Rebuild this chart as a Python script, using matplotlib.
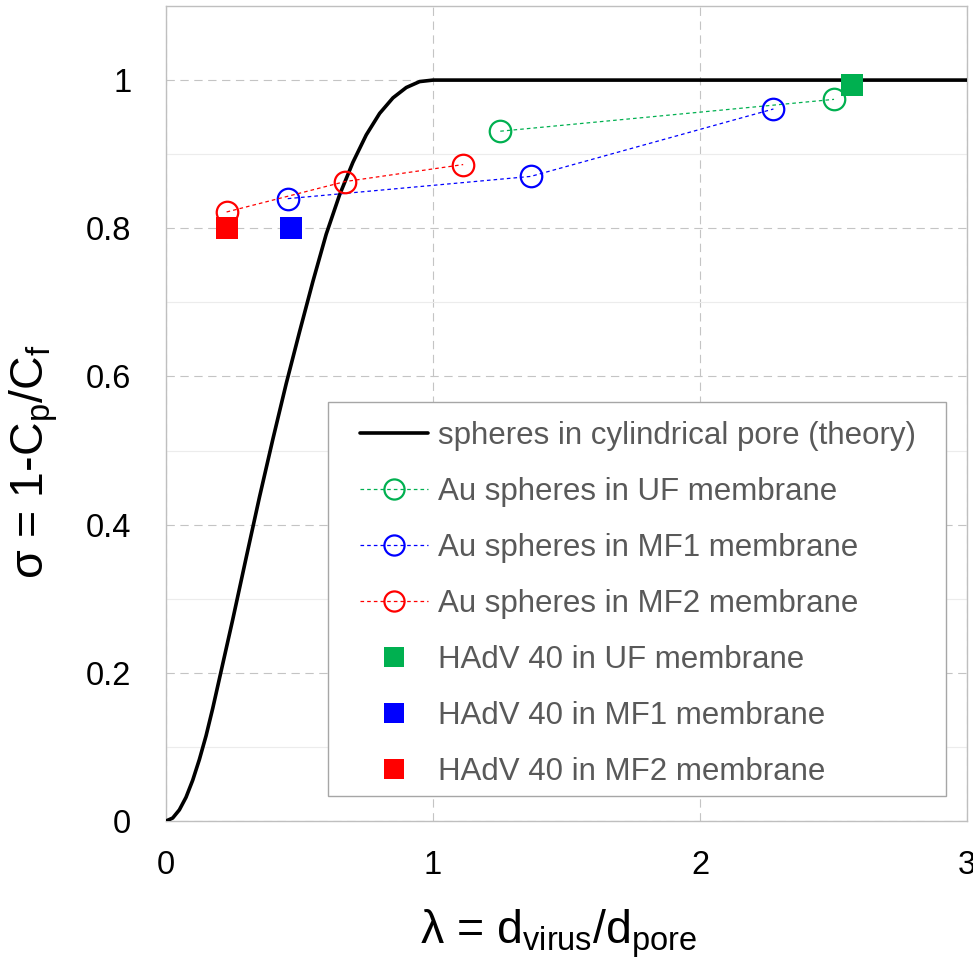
import matplotlib
matplotlib.use("Agg")
import matplotlib.pyplot as plt
from matplotlib.patches import Rectangle
from matplotlib.ticker import FixedLocator, FuncFormatter

plt.rcParams['font.family'] = ['Liberation Sans', 'DejaVu Sans']
plt.rcParams['mathtext.fontset'] = 'custom'
plt.rcParams['mathtext.rm'] = 'Liberation Sans'
plt.rcParams['mathtext.it'] = 'Liberation Sans'
plt.rcParams['mathtext.default'] = 'regular'
plt.rcParams['lines.scale_dashes'] = False

# Theoretical rejection of spheres in a cylindrical pore
theory_lambda = [0.0, 0.025, 0.05, 0.075, 0.10, 0.125, 0.15, 0.175, 0.20, 0.25,
                 0.30, 0.35, 0.40, 0.45, 0.50, 0.55, 0.60, 0.65, 0.70, 0.75,
                 0.80, 0.85, 0.90, 0.95, 1.0, 3.0]
theory_sigma = [0.0, 0.004, 0.015, 0.032, 0.055, 0.083, 0.115, 0.152, 0.192, 0.272,
                0.355, 0.437, 0.515, 0.590, 0.660, 0.728, 0.792, 0.845, 0.889, 0.926,
                0.955, 0.976, 0.990, 0.998, 1.0, 1.0]

# Au spheres
uf_lambda = [1.252, 2.502]
uf_sigma = [0.931, 0.974]
mf1_lambda = [0.456, 1.366, 2.275]
mf1_sigma = [0.840, 0.870, 0.961]
mf2_lambda = [0.227, 0.670, 1.113]
mf2_sigma = [0.822, 0.863, 0.886]

# HAdV 40
hadv_uf = (2.568, 0.993)
hadv_mf1 = (0.469, 0.800)
hadv_mf2 = (0.228, 0.800)

green = '#00B050'
blue = '#0000FF'
red = '#FF0000'

W, H = 973, 965
fig = plt.figure(figsize=(W / 100, H / 100), dpi=100)
L, R, B, T = 166, 967, 821, 6
ax = fig.add_axes([L / W, 1 - B / H, (R - L) / W, (B - T) / H])

ax.set_xlim(0, 3)
ax.set_ylim(0, 1.1)

# grid
ax.xaxis.set_major_locator(FixedLocator([0, 1, 2, 3]))
ax.yaxis.set_major_locator(FixedLocator([0, 0.2, 0.4, 0.6, 0.8, 1.0]))
ax.yaxis.set_minor_locator(FixedLocator([0.1, 0.3, 0.5, 0.7, 0.9]))
ax.grid(True, which='major', axis='both', color='#c4c4c4', lw=0.8,
        linestyle=(0, (6, 4)))
ax.grid(True, which='minor', axis='y', color='#ececec', lw=0.8, linestyle='-')
ax.set_axisbelow(True)


def fmt(v, _):
    s = f"{v:.1f}"
    return s[:-2] if s.endswith('.0') else s


ax.yaxis.set_major_formatter(FuncFormatter(fmt))
ax.xaxis.set_major_formatter(FuncFormatter(fmt))
ax.tick_params(which='both', length=0)
ax.tick_params(axis='y', labelsize=23.5, pad=25)
ax.tick_params(axis='x', labelsize=23.5, pad=21)
for s in ax.spines.values():
    s.set_color('#bfbfbf')
    s.set_linewidth(1.0)

h_theory, = ax.plot(theory_lambda, theory_sigma, color='black', lw=2.6,
                    solid_capstyle='round', solid_joinstyle='round', zorder=3,
                    label='spheres in cylindrical pore (theory)')

dash = (0, (2.6, 2.2))
circ = dict(marker='o', markersize=15.5, markerfacecolor='none', mew=1.6,
            lw=0.9, linestyle=dash, zorder=4)
h_uf, = ax.plot(uf_lambda, uf_sigma, color=green, label='Au spheres in UF membrane', **circ)
h_mf1, = ax.plot(mf1_lambda, mf1_sigma, color=blue, label='Au spheres in MF1 membrane', **circ)
h_mf2, = ax.plot(mf2_lambda, mf2_sigma, color=red, label='Au spheres in MF2 membrane', **circ)
for h in (h_uf, h_mf1, h_mf2):
    h.set_markeredgecolor(h.get_color())

sq = dict(marker='s', markersize=16, linestyle='none', mew=0, zorder=5)
h_s1, = ax.plot([hadv_uf[0]], [hadv_uf[1]], color=green, label='HAdV 40 in UF membrane', **sq)
h_s2, = ax.plot([hadv_mf1[0]], [hadv_mf1[1]], color=blue, label='HAdV 40 in MF1 membrane', **sq)
h_s3, = ax.plot([hadv_mf2[0]], [hadv_mf2[1]], color=red, label='HAdV 40 in MF2 membrane', **sq)


def to_axes(px, py):
    return (px - L) / (R - L), (B - py) / (B - T)


# legend frame
x0, y1 = to_axes(328, 402)
x1, y0 = to_axes(946, 796)
ax.add_patch(Rectangle((x0, y0), x1 - x0, y1 - y0, transform=ax.transAxes,
                       facecolor='white', edgecolor='#a6a6a6', lw=1.0, zorder=6))

lx, ly = to_axes(360, 421)
leg = ax.legend(handles=[h_theory, h_uf, h_mf1, h_mf2, h_s1, h_s2, h_s3],
                loc='upper left', bbox_to_anchor=(lx, ly), frameon=False,
                fontsize=22.5, borderpad=0, borderaxespad=0,
                handlelength=2.18, handletextpad=0.3, labelspacing=0.83,
                numpoints=1)
leg.set_zorder(7)
for t in leg.get_texts():
    t.set_color('#595959')
for lh in leg.legend_handles[1:]:
    lh.set_markersize(14.5)

ax.set_xlabel('λ = d$_{virus}$/d$_{pore}$', fontsize=33.5)
ax.set_ylabel('σ = 1-C$_{p}$/C$_{f}$', fontsize=33.5)
ax.xaxis.set_label_coords(0.49, (B - 907) / (B - T))
ax.yaxis.set_label_coords((60 - L) / (R - L), (B - 462) / (B - T))
ax.xaxis.label.set_va('top')

fig.savefig('out.png', dpi=100)
